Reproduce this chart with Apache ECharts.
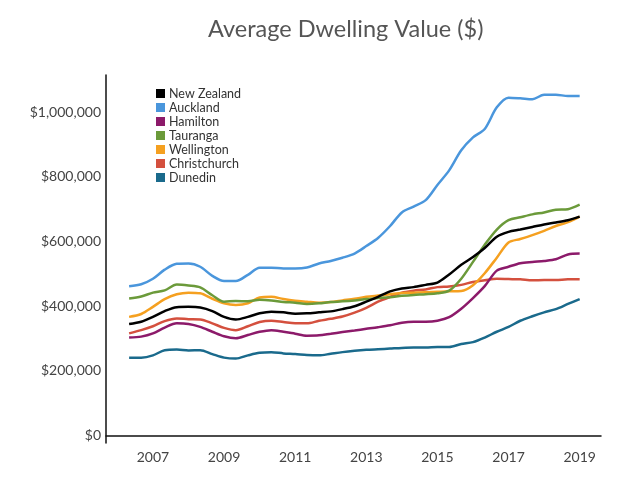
<!DOCTYPE html>
<html>
<head>
<meta charset="utf-8">
<script src="https://cdn.jsdelivr.net/npm/echarts@6/dist/echarts.min.js"></script>
<style>
html,body{margin:0;padding:0;background:#fff;}
#c{width:641px;height:495px;}
</style>
</head>
<body>
<div id="c"></div>
<script>
// Time points (decimal years, every 4 months)
var years = [2006.33,2006.67,2007.00,2007.33,2007.67,2008.00,2008.33,2008.67,2009.00,2009.33,2009.67,2010.00,2010.33,2010.67,2011.00,2011.33,2011.67,2012.00,2012.33,2012.67,2013.00,2013.33,2013.67,2014.00,2014.33,2014.67,2015.00,2015.33,2015.67,2016.00,2016.33,2016.67,2017.00,2017.33,2017.67,2018.00,2018.33,2018.67,2019.00];

// Average dwelling values, in thousands of dollars
var newZealand = [345,352,367,385,397,398,396,385,367,359,367,378,383,381,377,378,381,384,391,400,414,429,446,455,459,466,473,498,528,552,580,615,630,637,645,653,659,666,677];
var auckland = [462,468,485,513,531,532,522,494,478,478,497,519,519,517,517,520,532,540,550,563,586,611,648,690,708,728,775,820,882,922,948,1015,1045,1043,1040,1054,1054,1050,1050];
var hamilton = [303,306,316,334,347,345,336,321,307,301,311,321,326,321,315,309,310,315,320,325,330,335,341,349,352,352,355,366,392,425,462,510,522,533,537,540,545,560,563];
var tauranga = [424,430,442,449,467,464,458,434,414,416,415,420,418,413,411,407,409,413,415,418,422,425,428,432,435,437,440,448,485,537,590,637,666,675,684,690,698,700,714];
var wellington = [367,376,398,422,437,442,440,423,409,404,409,427,429,422,417,414,411,413,418,423,429,433,437,441,442,443,445,446,447,465,502,550,597,608,620,633,648,660,677];
var christchurch = [316,326,338,354,362,360,359,347,333,326,338,351,355,351,347,347,355,361,368,380,395,414,429,442,448,452,459,461,466,475,480,485,484,483,480,481,481,483,483];
var dunedin = [241,241,248,264,266,263,264,252,241,238,248,256,258,254,252,249,248,253,258,262,265,267,269,271,272,272,274,274,283,289,303,321,336,355,369,381,391,407,422];

var seriesNames = ['New Zealand','Auckland','Hamilton','Tauranga','Wellington','Christchurch','Dunedin'];
var seriesValues = [newZealand, auckland, hamilton, tauranga, wellington, christchurch, dunedin];
var seriesColors = ['#000000','#4a96dc','#8c1a6a','#6b9a3a','#f5a020','#d4503e','#1a6a8c'];

var yTicks = [0,200000,400000,600000,800000,1000000];
var xTicks = [2007,2009,2011,2013,2015,2017,2019];

function pairs(vals){
  return vals.map(function(v,i){ return [years[i], v*1000]; });
}

var drawOrder = [6,5,2,4,3,1,0];
var series = drawOrder.map(function(k){
  return {
    name: seriesNames[k],
    type: 'line',
    data: pairs(seriesValues[k]),
    showSymbol: false,
    smooth: 0.3,
    lineStyle: {width: 2.5, color: seriesColors[k]},
    itemStyle: {color: seriesColors[k]},
    z: 2 + drawOrder.indexOf(k)
  };
});

var chart = echarts.init(document.getElementById('c'), null, {renderer:'canvas'});
chart.setOption({
  animation: false,
  backgroundColor: '#ffffff',
  title: {
    text: 'Average Dwelling Value ($)',
    left: 208,
    top: 17,
    padding: 0,
    textStyle: {fontFamily: 'Lato', fontSize: 23.5, fontWeight: 'normal', color: '#555555'}
  },
  legend: {
    data: seriesNames,
    orient: 'vertical',
    left: 156,
    top: 87,
    padding: 0,
    icon: 'rect',
    itemWidth: 9,
    itemHeight: 9,
    itemGap: 1,
    textStyle: {fontFamily: 'Lato', fontSize: 12.5, lineHeight: 12, color: '#333333', padding: [0,0,0,-1]}
  },
  grid: {left: 106, right: 40, top: 75, bottom: 52, containLabel: false},
  xAxis: {
    type: 'value',
    min: 2005.68,
    max: 2019.6,
    axisLine: {show: true, lineStyle: {color: '#111', width: 1.5}},
    axisTick: {show: false},
    splitLine: {show: false},
    axisLabel: {
      customValues: xTicks,
      formatter: function(v){ return String(Math.round(v)); },
      color: '#444', fontFamily: 'Lato', fontSize: 14, margin: 7
    }
  },
  yAxis: {
    type: 'value',
    min: -23000,
    max: 1115000,
    axisLine: {show: true, lineStyle: {color: '#111', width: 1.5}},
    axisTick: {show: false},
    splitLine: {show: false},
    axisLabel: {
      customValues: yTicks,
      formatter: function(v){ return '$' + Math.round(v).toString().replace(/\B(?=(\d{3})+(?!\d))/g, ','); },
      color: '#444', fontFamily: 'Lato', fontSize: 14, margin: 5
    }
  },
  series: series
});
</script>
</body>
</html>
